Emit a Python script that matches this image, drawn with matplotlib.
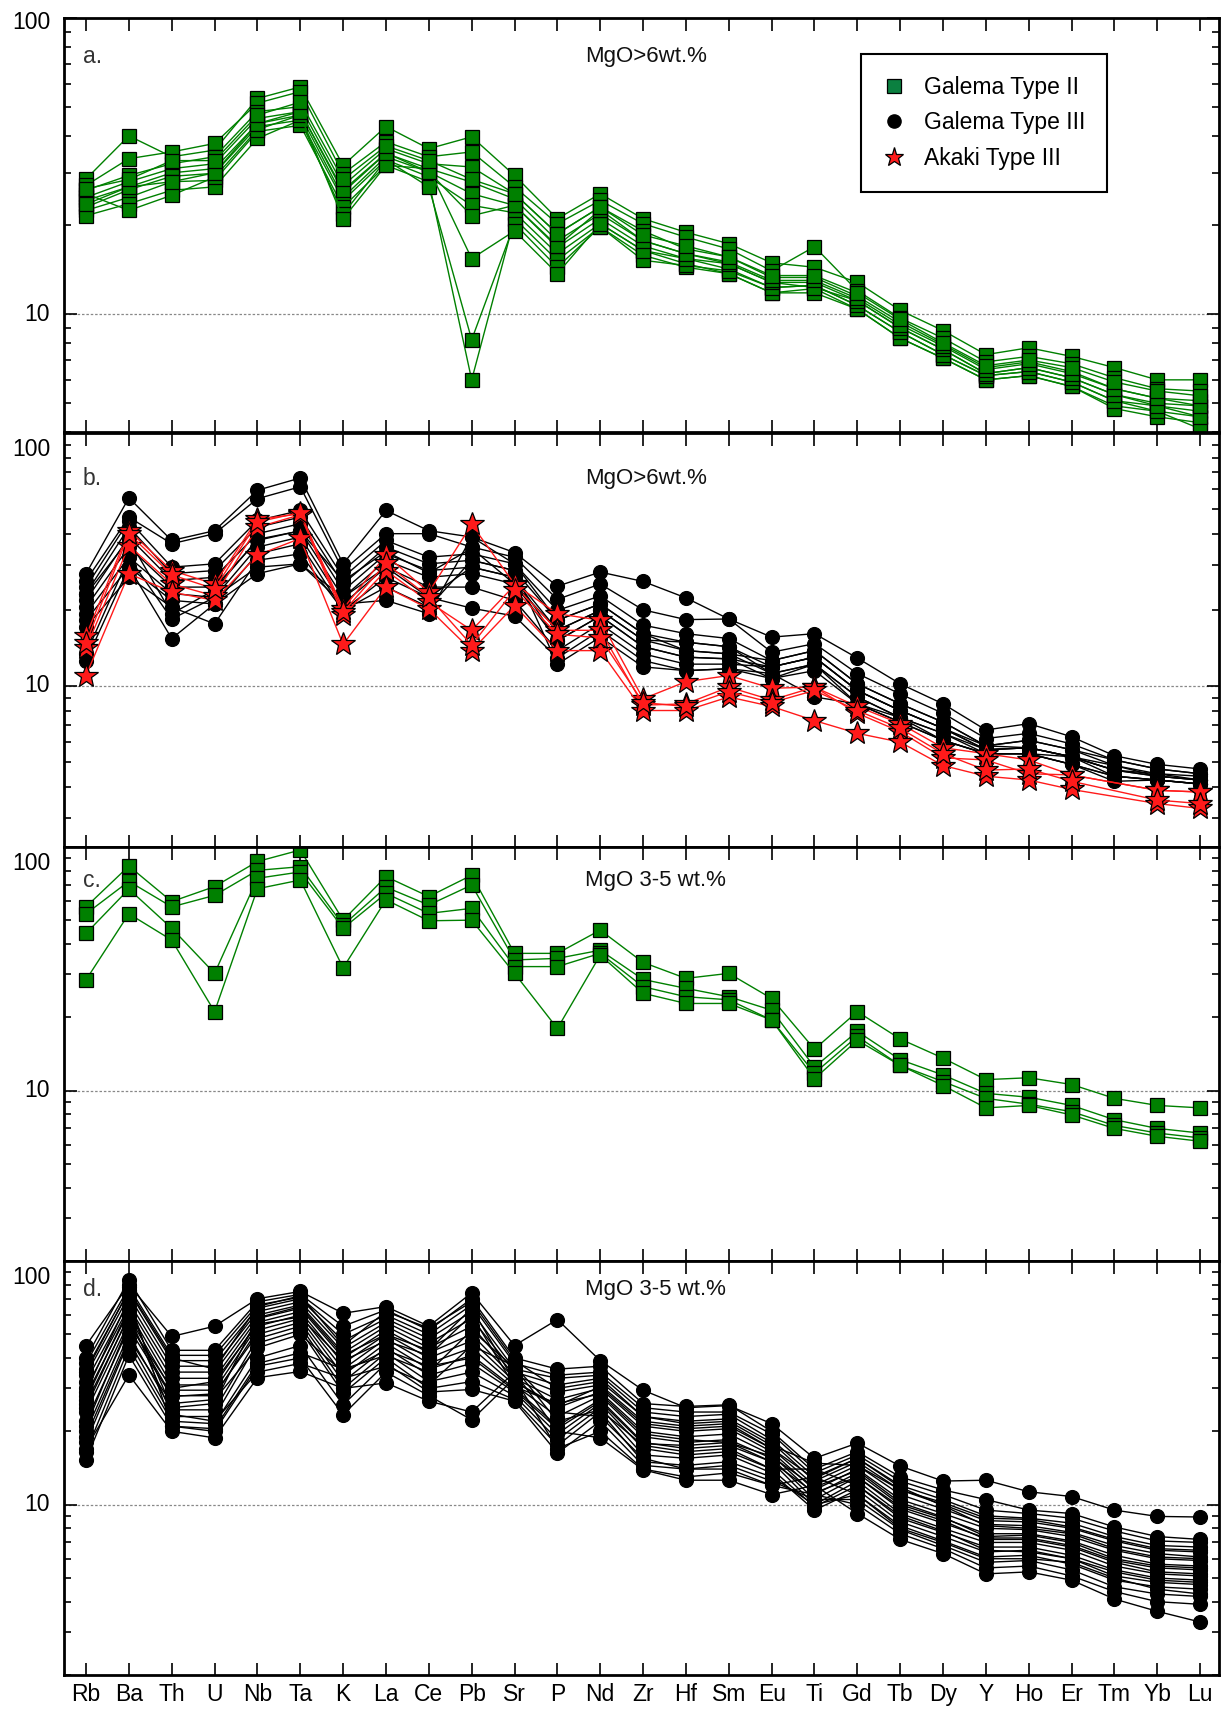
import numpy as np
import matplotlib
matplotlib.use("Agg")
import matplotlib.pyplot as plt
from matplotlib.lines import Line2D
from matplotlib.ticker import FixedLocator, LogLocator, NullFormatter

plt.rcParams['font.family'] = ['Liberation Sans', 'DejaVu Sans']

elements = ["Rb", "Ba", "Th", "U", "Nb", "Ta", "K", "La", "Ce", "Pb", "Sr", "P", "Nd",
            "Zr", "Hf", "Sm", "Eu", "Ti", "Gd", "Tb", "Dy", "Y", "Ho", "Er", "Tm", "Yb", "Lu"]

# a. Galema Type II, MgO>6wt.%
galema2_mafic = [
    [28.6, 40.0, 34.0, 35.8, 53.5, 58.5, 31.8, 43.0, 36.2, 39.7, 29.4, 21.0, 25.5, 21.0, 18.9, 17.3, 14.9, 14.4, 12.8, 10.3, 8.8, 7.3, 7.7, 7.2, 6.6, 6.0, 6.0],
    [27.2, 33.5, 35.3, 37.7, 51.6, 56.4, 29.8, 38.2, 34.0, 35.3, 26.9, 20.2, 24.2, 20.2, 18.2, 16.6, 14.0, 16.9, 12.0, 9.7, 8.3, 6.9, 7.2, 6.8, 6.1, 5.6, 5.5],
    [26.2, 29.4, 32.2, 34.0, 48.3, 50.2, 27.2, 36.2, 32.2, 31.4, 25.5, 18.7, 23.0, 19.1, 16.6, 15.6, 13.3, 13.3, 11.5, 9.4, 7.9, 6.6, 6.9, 6.4, 5.6, 5.2, 5.1],
    [24.8, 28.0, 31.0, 32.2, 45.8, 48.3, 25.8, 34.9, 31.0, 27.9, 24.5, 17.7, 21.8, 17.7, 16.0, 14.8, 12.8, 12.8, 11.1, 9.0, 7.6, 6.3, 6.6, 6.1, 5.35, 5.0, 4.9],
    [24.2, 26.9, 30.0, 31.0, 44.0, 47.0, 24.8, 34.0, 30.2, 25.5, 23.3, 16.8, 21.0, 17.0, 15.4, 14.2, 12.3, 12.5, 10.7, 8.7, 7.3, 6.2, 6.4, 5.9, 5.1, 4.9, 4.7],
    [23.0, 26.3, 29.2, 29.9, 43.0, 45.2, 24.2, 33.2, 29.1, 23.3, 22.0, 16.0, 20.2, 16.4, 14.8, 13.7, 11.8, 12.2, 10.4, 8.3, 7.1, 6.0, 6.2, 5.7, 4.9, 4.7, 4.5],
    [22.4, 24.8, 28.0, 28.3, 41.4, 43.4, 23.0, 31.8, 28.0, 6.0, 21.0, 15.2, 19.7, 15.8, 14.4, 13.7, 11.8, 11.8, 10.4, 8.3, 7.1, 6.0, 6.2, 5.7, 4.8, 4.5, 4.3],
    [21.5, 23.6, 26.2, 26.9, 39.2, 45.2, 21.8, 33.2, 26.9, 8.2, 20.2, 14.4, 19.7, 15.2, 14.6, 14.0, 12.3, 12.5, 10.7, 8.7, 7.3, 6.2, 6.4, 5.9, 5.1, 4.7, 4.1],
    [25.5, 22.4, 25.2, 29.0, 42.0, 47.0, 21.0, 31.8, 31.0, 15.4, 19.1, 13.7, 20.2, 16.4, 15.4, 14.8, 12.8, 12.3, 11.1, 9.0, 7.6, 6.3, 6.6, 6.1, 5.35, 4.9, 4.5],
    [23.5, 26.9, 28.0, 30.0, 44.0, 48.3, 26.2, 35.0, 30.2, 21.5, 23.3, 17.0, 22.5, 17.7, 16.0, 15.0, 13.0, 13.0, 11.3, 9.2, 7.8, 6.5, 6.8, 6.3, 5.6, 5.2, 4.9],
    [26.5, 28.5, 33.0, 33.0, 47.0, 52.0, 28.5, 37.0, 33.0, 28.5, 25.5, 18.7, 23.0, 18.5, 17.0, 15.6, 13.5, 13.5, 11.8, 9.6, 8.0, 6.7, 7.0, 6.6, 5.9, 5.5, 5.3],
]

# b. Galema Type III, MgO>6wt.%
galema3_mafic = [
    [27.8, 55.4, 37.6, 41.1, 59.4, 66.4, 30.4, 49.4, 41.1, 38.8, 33.7, 24.8, 28.2, 25.9, 22.3, 18.4, 15.6, 16.1, 12.9, 10.2, 8.5, 6.7, 7.1, 6.3, 5.3, 4.9, 4.7],
    [26.1, 46.5, 36.5, 40.0, 55.0, 61.3, 28.6, 40.0, 40.0, 35.4, 32.3, 22.0, 25.3, 20.0, 18.3, 18.4, 13.6, 14.7, 11.2, 9.3, 7.8, 6.2, 6.5, 5.9, 5.1, 4.7, 4.5],
    [24.6, 45.0, 29.5, 30.4, 45.1, 49.4, 26.9, 37.6, 32.3, 33.3, 30.4, 19.9, 22.7, 17.4, 16.1, 15.4, 12.6, 13.8, 10.2, 8.5, 7.2, 5.8, 6.1, 5.6, 4.85, 4.5, 4.4],
    [23.2, 42.4, 27.8, 28.6, 42.4, 46.5, 25.3, 35.4, 30.4, 31.4, 28.6, 18.2, 21.1, 16.1, 14.9, 14.3, 11.9, 13.0, 9.6, 8.0, 6.8, 5.6, 5.7, 5.25, 4.65, 4.4, 4.25],
    [21.8, 38.8, 26.1, 26.9, 40.0, 43.8, 23.8, 33.3, 28.6, 29.5, 26.9, 16.6, 19.9, 15.2, 13.8, 13.4, 11.2, 12.2, 9.05, 7.5, 6.5, 5.4, 5.4, 4.9, 4.4, 4.25, 4.1],
    [20.5, 35.4, 24.6, 24.6, 37.6, 41.1, 22.4, 31.4, 26.9, 27.8, 25.3, 15.1, 18.9, 14.3, 13.0, 12.8, 10.7, 11.5, 8.5, 7.2, 6.1, 5.4, 5.4, 4.9, 4.2, 4.25, 4.1],
    [19.3, 32.3, 23.2, 22.4, 35.4, 38.8, 21.1, 29.5, 24.6, 24.6, 21.8, 13.8, 17.6, 13.4, 12.2, 12.2, 11.9, 13.0, 9.6, 8.0, 6.8, 5.8, 5.7, 5.25, 4.65, 4.5, 4.25],
    [18.2, 29.5, 21.8, 21.1, 33.3, 36.5, 19.9, 26.9, 22.4, 20.3, 18.9, 12.9, 16.6, 12.6, 11.5, 11.7, 11.2, 9.05, 8.5, 7.5, 6.5, 5.6, 5.7, 5.25, 4.85, 4.4, 4.25],
    [17.1, 26.9, 20.5, 17.6, 31.4, 33.3, 19.9, 24.6, 20.5, 31.4, 28.6, 12.2, 15.6, 11.9, 11.5, 11.7, 10.7, 12.2, 9.05, 7.5, 6.1, 5.4, 5.4, 5.25, 4.4, 4.25, 4.1],
    [13.4, 32.3, 18.4, 22.4, 29.5, 30.4, 21.1, 21.8, 19.3, 38.8, 30.4, 18.2, 21.1, 16.1, 13.8, 13.4, 12.6, 13.8, 10.2, 8.5, 7.2, 5.8, 6.1, 5.6, 5.1, 4.7, 4.5],
    [12.6, 29.5, 15.4, 21.1, 27.8, 30.4, 22.4, 29.5, 22.4, 29.5, 26.9, 15.1, 18.9, 14.3, 13.0, 12.8, 11.9, 13.0, 9.6, 8.0, 6.8, 5.6, 5.7, 5.25, 4.65, 4.4, 4.25],
    [23.0, 38.0, 19.3, 24.0, 38.0, 41.0, 26.0, 34.0, 28.0, 35.0, 25.3, 16.6, 19.9, 15.2, 14.9, 14.3, 11.2, 12.2, 8.5, 7.2, 6.1, 5.4, 5.4, 4.9, 4.4, 4.25, 4.1],
]

# b. Akaki Type III, MgO>6wt.% (no Tm)
akaki3_mafic = [
    [15.8, 41.1, 28.6, 25.3, 45.6, 47.9, 20.2, 32.9, 23.5, 43.5, 25.3, 19.3, 18.2, 8.9, 10.4, 11.0, 9.8, 9.9, 8.3, 7.1, 5.7, 5.4, 5.1, 4.45, np.nan, 3.87, 3.81],
    [14.1, 35.9, 25.3, 22.7, 42.4, 47.5, 19.0, 28.6, 21.5, 16.6, 25.0, 16.6, 16.6, 8.4, 8.5, 9.9, 8.8, 9.9, 7.8, 6.6, 5.2, 5.1, 4.5, 4.45, np.nan, 3.87, 3.81],
    [11.0, 27.8, 23.5, 21.8, 32.9, 38.3, 14.6, 24.6, 20.2, 13.8, 20.8, 13.8, 13.8, 8.0, 8.0, 9.05, 8.3, 7.3, 6.5, 6.0, 4.85, 4.4, 4.25, 3.9, np.nan, 3.43, 3.28],
    [14.8, 40.0, 27.5, 24.2, 44.5, 48.5, 19.6, 30.5, 22.5, 14.5, 24.0, 16.0, 15.5, 8.6, 8.3, 9.5, 8.6, 9.6, 8.0, 6.8, 5.4, 4.65, 4.7, 4.2, np.nan, 3.54, 3.43],
]

# c. Galema Type II, MgO 3-5 wt.%
galema2_evolved = [
    [56.8, 83.5, 59.7, 68.8, 87.2, 97.2, 50.1, 75.6, 62.6, 76.6, 36.6, 36.6, 45.6, 33.6, 28.9, 30.3, 23.9, 14.8, 21.1, 16.3, 13.6, 11.1, 11.3, 10.6, 9.3, 8.7, 8.5],
    [53.2, 72.3, 56.8, 63.3, 80.2, 83.0, 47.8, 68.4, 57.8, 69.8, 34.4, 34.9, 37.7, 28.6, 26.3, 24.3, 21.4, 12.5, 17.5, 13.4, 11.6, 9.75, 9.4, 8.7, 7.6, 7.0, 6.7],
    [44.2, 67.2, 46.4, 30.3, 74.4, 79.0, 46.4, 64.5, 53.4, 56.0, 32.3, 32.3, 36.6, 26.7, 24.3, 23.6, 19.5, 11.8, 16.7, 12.7, 10.9, 9.3, 8.8, 8.2, 7.2, 6.7, 6.4],
    [28.5, 53.2, 41.5, 21.1, 67.4, 73.2, 31.9, 60.7, 49.8, 50.1, 30.3, 18.0, 36.0, 25.1, 22.8, 22.8, 19.5, 11.2, 16.1, 12.7, 10.5, 8.5, 8.7, 7.95, 7.0, 6.5, 6.2],
]

# d. Galema Type III, MgO 3-5 wt.%
galema3_evolved = [
    [45.0, 80.0, 49.0, 54.0, 70.0, 75.0, 61.0, 65.0, 54.0, 74.0, 45.0, 57.5, 39.0, 29.5, 25.0, 25.5, 21.5, 15.5, 17.9, 14.4, 12.5, 12.6, 11.3, 10.8, 9.5, 8.95, 8.9],
    [40.0, 83.6, 43.0, 43.0, 68.0, 73.0, 54.0, 63.0, 52.0, 70.0, 40.0, 36.0, 37.0, 26.0, 25.3, 25.7, 20.0, 14.0, 16.5, 13.0, 11.5, 10.5, 9.5, 9.2, 8.1, 7.4, 7.2],
    [38.0, 78.0, 41.0, 41.0, 66.0, 71.0, 50.0, 60.0, 50.0, 66.0, 38.0, 34.0, 35.0, 25.0, 24.0, 24.0, 19.5, 13.5, 16.0, 12.5, 11.0, 9.5, 9.2, 8.8, 7.8, 7.1, 7.0],
    [36.0, 75.0, 39.0, 39.0, 64.0, 70.0, 47.0, 58.0, 48.0, 62.0, 36.0, 33.0, 34.0, 24.0, 23.0, 23.5, 18.5, 13.0, 15.5, 12.0, 10.5, 9.0, 8.8, 8.4, 7.4, 6.8, 6.7],
    [34.0, 72.0, 37.0, 37.0, 62.0, 68.0, 44.0, 56.0, 46.0, 58.0, 35.0, 31.0, 33.0, 23.0, 22.0, 22.5, 18.0, 12.5, 15.0, 11.5, 10.0, 8.6, 8.5, 8.0, 7.1, 6.5, 6.4],
    [32.0, 68.0, 35.0, 35.0, 60.0, 66.0, 42.0, 54.0, 44.0, 54.0, 34.0, 29.0, 31.0, 22.0, 21.0, 21.5, 17.0, 12.0, 14.5, 11.0, 9.6, 8.3, 8.2, 7.7, 6.8, 6.3, 6.1],
    [30.0, 65.0, 33.0, 33.0, 58.0, 64.0, 40.0, 52.0, 42.0, 50.0, 33.0, 27.0, 30.0, 21.0, 20.0, 20.5, 16.5, 11.5, 14.0, 10.5, 9.2, 8.0, 7.9, 7.4, 6.5, 6.0, 5.9],
    [28.0, 62.0, 31.0, 31.0, 56.0, 62.0, 38.0, 50.0, 40.0, 47.0, 32.0, 25.0, 29.0, 20.0, 19.0, 19.5, 16.0, 11.0, 13.5, 10.0, 8.8, 7.6, 7.6, 7.1, 6.2, 5.7, 5.6],
    [26.0, 59.0, 29.5, 29.5, 54.0, 60.0, 36.0, 48.0, 38.0, 44.0, 31.0, 23.0, 28.0, 19.0, 18.0, 18.5, 15.5, 10.5, 13.0, 9.6, 8.4, 7.3, 7.3, 6.8, 5.9, 5.5, 5.4],
    [24.0, 56.0, 28.0, 28.0, 52.0, 58.0, 34.0, 46.0, 36.0, 41.0, 30.0, 21.0, 27.0, 18.0, 17.0, 17.5, 15.0, 10.0, 12.5, 9.2, 8.0, 7.0, 7.0, 6.5, 5.6, 5.2, 5.1],
    [22.0, 53.0, 27.8, 28.5, 50.0, 56.0, 32.0, 44.0, 34.0, 38.0, 29.0, 19.5, 26.0, 17.0, 16.0, 16.5, 14.0, 9.8, 12.0, 8.8, 7.7, 6.7, 6.7, 6.2, 5.4, 5.0, 4.9],
    [20.0, 50.0, 24.5, 24.5, 48.0, 54.0, 30.0, 42.0, 32.0, 35.0, 28.0, 18.5, 25.0, 16.0, 15.5, 16.0, 13.5, 9.5, 11.5, 8.5, 7.4, 6.4, 6.5, 6.0, 5.1, 4.8, 4.7],
    [18.0, 47.0, 23.0, 23.0, 46.0, 52.0, 28.7, 40.0, 30.0, 32.0, 27.0, 17.5, 24.0, 15.0, 14.5, 15.0, 13.0, 10.0, 11.0, 8.2, 7.1, 6.1, 6.2, 5.7, 4.9, 4.6, 4.5],
    [16.5, 44.0, 22.0, 21.5, 40.0, 45.0, 25.7, 38.0, 29.0, 29.7, 26.6, 16.3, 22.0, 14.5, 14.0, 14.5, 12.5, 10.5, 10.5, 7.9, 6.8, 5.8, 5.9, 5.4, 4.6, 4.3, 4.2],
    [15.3, 41.0, 21.0, 20.0, 37.0, 40.0, 23.4, 35.0, 28.0, 22.3, 33.0, 17.0, 20.0, 14.0, 13.0, 13.5, 12.0, 11.0, 10.0, 7.6, 6.6, 5.5, 5.6, 5.1, 4.4, 4.0, 3.9],
    [17.0, 34.1, 20.0, 18.8, 33.2, 35.2, 30.0, 31.6, 26.6, 24.0, 35.0, 20.0, 18.8, 13.9, 12.6, 12.6, 11.0, 12.0, 9.2, 7.2, 6.3, 5.2, 5.3, 4.9, 4.1, 3.65, 3.3],
    [25.0, 60.0, 23.5, 22.0, 35.0, 38.0, 33.0, 37.0, 31.0, 45.0, 37.0, 24.0, 23.0, 15.5, 14.0, 14.0, 12.0, 13.0, 11.0, 8.0, 7.0, 6.0, 6.0, 5.8, 5.0, 4.5, 4.3],
    [29.0, 70.0, 21.0, 20.5, 38.0, 42.0, 36.0, 41.0, 35.0, 52.0, 36.4, 22.0, 24.5, 17.5, 16.5, 17.0, 14.0, 14.0, 12.0, 9.0, 7.8, 6.5, 6.4, 6.0, 5.3, 4.9, 4.8],
    [35.0, 76.0, 40.0, 36.0, 65.0, 72.0, 45.0, 62.0, 53.0, 68.0, 39.0, 30.0, 32.0, 23.0, 21.5, 22.0, 17.5, 14.8, 14.5, 11.5, 10.2, 8.8, 8.7, 8.1, 7.2, 6.6, 6.5],
    [21.0, 55.0, 30.0, 32.0, 55.0, 59.0, 39.0, 47.0, 41.0, 60.0, 30.5, 26.0, 28.5, 19.5, 18.5, 18.0, 15.0, 11.2, 13.0, 9.8, 8.6, 7.2, 7.2, 6.7, 5.8, 5.3, 5.2],
    [27.0, 64.0, 25.0, 26.0, 58.5, 65.0, 41.0, 50.0, 43.0, 64.0, 32.0, 25.5, 30.5, 21.5, 20.5, 21.0, 17.0, 12.8, 15.5, 11.8, 9.9, 8.2, 8.0, 7.6, 6.6, 6.1, 6.0],
    [19.0, 48.0, 26.0, 27.0, 44.0, 50.0, 35.0, 43.0, 37.0, 40.0, 29.5, 20.5, 26.5, 17.8, 17.5, 18.0, 15.8, 11.8, 13.8, 10.2, 8.9, 7.4, 7.5, 7.0, 6.0, 5.6, 5.5],
]

GREEN = "#008000"
x = np.arange(len(elements))
FS = 16.5


def draw(ax, rows, marker, face, line, ms):
    for row in rows:
        y = np.array(row, dtype=float)
        ok = np.isfinite(y)
        ax.plot(x[ok], y[ok], color=line, lw=1.0, marker=marker, ms=ms,
                mfc=face, mec="black", mew=0.9)


def style(ax, ymin, letter, note, text_y, off100, xlabels):
    ax.set_yscale("log")
    ax.set_xlim(-0.514, 26.44)
    ax.set_ylim(ymin, 100)
    ax.set_xticks(x)
    if xlabels:
        ax.set_xticklabels(elements, fontsize=FS)
    else:
        ax.set_xticklabels([])
    ax.yaxis.set_major_locator(FixedLocator([10, 100]))
    ax.yaxis.set_minor_locator(LogLocator(base=10, subs=range(2, 10)))
    ax.yaxis.set_major_formatter(NullFormatter())
    ax.yaxis.set_minor_formatter(NullFormatter())
    ax.tick_params(which="both", direction="in", top=True, right=True, width=1.2)
    ax.tick_params(which="major", length=9)
    ax.tick_params(which="minor", length=5)
    ax.tick_params(axis="x", pad=6)
    for s in ax.spines.values():
        s.set_linewidth(2)
    ax.axhline(10, color="#888888", lw=0.9, ls=(0, (2, 1.5)), zorder=0)
    ax.annotate("10", xy=(0, 10), xycoords=("axes fraction", "data"), xytext=(-10, 0),
                textcoords="offset points", ha="right", va="center", fontsize=FS,
                annotation_clip=False)
    ax.annotate("100", xy=(0, 100), xycoords=("axes fraction", "data"), xytext=(-10, off100),
                textcoords="offset points", ha="right", va="center", fontsize=FS,
                annotation_clip=False)
    ax.text(0.0165, text_y, letter, transform=ax.transAxes, fontsize=FS, color="#333333",
            ha="left", va="center")
    ax.text(0.451, text_y, note, transform=ax.transAxes, fontsize=FS - 0.5, color="#111111",
            ha="left", va="center")


fig = plt.figure(figsize=(12.21, 17.14), dpi=100)
x0, w = 64 / 1221, 1155 / 1221
h = 414 / 1714
ax_a = fig.add_axes([x0, 1 - 432 / 1714, w, h])
ax_b = fig.add_axes([x0, 1 - 847 / 1714, w, h])
ax_c = fig.add_axes([x0, 1 - 1261 / 1714, w, h])
ax_d = fig.add_axes([x0, 1 - 1675 / 1714, w, h])

draw(ax_a, galema2_mafic, "s", GREEN, GREEN, 9.5)
draw(ax_b, galema3_mafic, "o", "black", "black", 10)
draw(ax_b, akaki3_mafic, "*", "#ff1a1a", "#ff1a1a", 18)
draw(ax_c, galema2_evolved, "s", GREEN, GREEN, 9.5)
draw(ax_d, galema3_evolved, "o", "black", "black", 10)

style(ax_a, 4, "a.", "MgO>6wt.%", 0.906, -3, False)
style(ax_b, 2.31, "b.", "MgO>6wt.%", 0.891, -12, False)
style(ax_c, 2, "c.", "MgO 3-5 wt.%", 0.92, -12, False)
style(ax_d, 2, "d.", "MgO 3-5 wt.%", 0.93, -12, True)

handles = [
    Line2D([], [], ls="none", marker="s", ms=9.5, mfc="#0b8040", mec="black", mew=0.9),
    Line2D([], [], ls="none", marker="o", ms=9.5, mfc="black", mec="black"),
    Line2D([], [], ls="none", marker="*", ms=14, mfc="#ff1a1a", mec="black", mew=0.9),
]
leg = ax_a.legend(handles, ["Galema Type II", "Galema Type III", "Akaki Type III"],
                  loc="upper left", bbox_to_anchor=(0.690, 0.913), borderaxespad=0,
                  fontsize=FS, frameon=True, fancybox=False, handlelength=1.0,
                  handletextpad=0.8, borderpad=0.95, labelspacing=0.55)
leg.get_frame().set_edgecolor("black")
leg.get_frame().set_linewidth(1.5)
leg.get_frame().set_alpha(1)

fig.savefig("out.png", dpi=100)
